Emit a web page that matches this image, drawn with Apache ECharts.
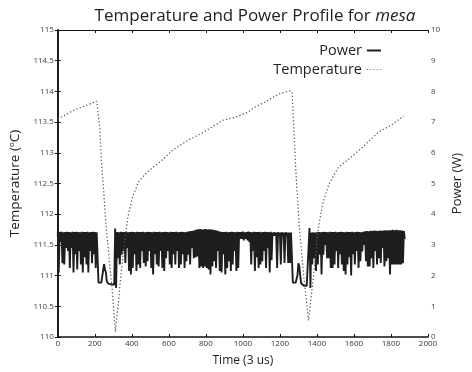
<!DOCTYPE html>
<html>
<head>
<meta charset="utf-8">
<script src="https://cdn.jsdelivr.net/npm/echarts@6/dist/echarts.min.js"></script>
<style>
html,body{margin:0;padding:0;background:#fff;}
#c{width:472px;height:372px;}
</style>
</head>
<body>
<div id="c"></div>
<script>
// ---- data ----
const titleText = 'Temperature and Power Profile for ';
const titleItalic = 'mesa';
const xTicks = [0, 200, 400, 600, 800, 1000, 1200, 1400, 1600, 1800, 2000];

// Temperature (deg C) vs time (3 us units)
const tempTime = [0, 8, 84, 152, 210, 219, 227, 236, 249, 261, 278, 295, 311, 320, 328, 337, 354, 379, 404, 438, 488, 556, 623, 707, 791, 892, 960, 1027, 1061, 1128, 1195, 1254, 1266, 1271, 1288, 1305, 1322, 1338, 1355, 1372, 1389, 1406, 1431, 1465, 1515, 1582, 1650, 1734, 1801, 1869];
const tempValue = [113.55, 113.57, 113.69, 113.77, 113.84, 113.85, 113.40, 112.86, 112.33, 111.79, 111.26, 110.73, 110.08, 110.35, 110.57, 110.89, 111.37, 111.96, 112.28, 112.54, 112.70, 112.86, 113.05, 113.21, 113.34, 113.53, 113.58, 113.66, 113.74, 113.84, 113.96, 114.01, 113.99, 113.66, 112.60, 111.80, 111.21, 110.73, 110.27, 110.73, 111.21, 111.74, 112.17, 112.49, 112.76, 112.92, 113.10, 113.34, 113.45, 113.60];

// Power (W): sampled every 10 time units; top of the band and bottom of the band
const powerStart = 0;
const powerStep = 10;
const powerHigh = [
 3.43,3.42,3.43,3.41,3.42,3.43,3.42,3.41,3.43,3.42, 3.43,3.42,3.41,3.43,3.42,3.42,3.43,3.41,3.42,3.43,
 3.42,3.41,1.77,1.77,1.77,2.37,2.10,1.75,1.72,1.72, 1.70,3.53,3.42,3.41,3.43,3.42,3.42,3.43,3.41,3.42,
 3.43,3.42,3.41,3.43,3.42,3.42,3.43,3.41,3.42,3.43, 3.42,3.41,3.43,3.42,3.42,3.43,3.41,3.42,3.43,3.42,
 3.41,3.43,3.42,3.42,3.43,3.41,3.42,3.43,3.42,3.41, 3.43,3.44,3.45,3.46,3.48,3.50,3.51,3.52,3.50,3.51,
 3.52,3.50,3.51,3.50,3.49,3.48,3.47,3.44,3.43,3.42, 3.42,3.43,3.41,3.42,3.43,3.42,3.41,3.43,3.42,3.42,
 3.43,3.41,3.42,3.43,3.42,3.41,3.43,3.42,3.42,3.43, 3.41,3.42,3.43,3.42,3.41,3.43,3.40,3.41,3.40,3.41,
 3.40,3.41,3.40,3.41,3.40,3.40,3.40,1.77,1.77,1.80, 2.40,2.00,1.70,1.67,1.67,1.67,3.55,3.40,3.41,3.40,
 3.41,3.42,3.41,3.42,3.43,3.42,3.41,3.43,3.42,3.42, 3.43,3.41,3.42,3.43,3.42,3.41,3.43,3.42,3.42,3.43,
 3.41,3.42,3.43,3.42,3.41,3.43,3.44,3.45,3.44,3.46, 3.45,3.47,3.46,3.45,3.47,3.46,3.47,3.48,3.47,3.48,
 3.48,3.49,3.48,3.49,3.48,3.48,3.47,3.45
];
const powerLow = [
 2.10,3.10,2.40,2.36,2.90,2.80,2.25,2.90,2.10,2.70, 2.20,2.80,2.36,2.10,2.60,2.36,2.10,2.80,2.40,2.70,
 2.25,2.60,1.77,1.77,1.80,2.20,1.80,1.73,1.72,1.72, 1.70,1.60,2.57,2.36,2.68,2.80,2.41,2.90,2.15,2.04,
 2.25,2.70,2.15,2.36,2.25,2.80,2.41,2.30,2.47,2.80, 2.25,2.04,2.70,2.36,2.30,2.80,2.25,2.15,2.57,2.80,
 2.36,2.25,2.70,2.36,2.80,2.25,2.36,2.70,2.25,2.47, 2.68,2.36,2.90,2.57,2.60,2.62,2.25,2.30,2.25,2.30,
 2.25,2.20,2.04,2.30,2.47,2.25,2.80,2.15,2.10,2.70, 2.04,2.25,2.47,2.15,2.36,2.80,2.15,2.25,3.20,3.20,
 3.15,3.20,3.15,3.10,2.36,2.80,2.15,2.60,2.25,2.36, 2.47,2.80,2.25,2.90,2.10,2.50,3.30,3.30,2.25,3.30,
 2.36,3.30,2.41,3.30,2.41,2.41,3.35,1.77,1.77,2.00, 2.30,1.75,1.70,1.67,1.67,1.67,1.60,2.36,2.57,2.15,
 2.36,2.68,2.04,2.68,3.00,2.57,2.57,2.25,2.25,2.36, 2.80,2.25,2.70,2.36,2.15,2.04,2.36,2.60,2.00,2.70,
 2.36,2.80,2.25,2.47,2.79,3.00,2.47,2.30,2.30,2.57, 2.25,2.80,2.36,2.57,2.41,2.90,2.30,2.47,2.57,2.04,
 2.36,2.36,2.36,2.36,2.36,2.36,2.40,3.20
];

// ---- build ----
const tempData = tempTime.map((t, i) => [t, tempValue[i]]);
const powerData = [];
for (let i = 0; i < powerHigh.length; i++) {
  const t = powerStart + i * powerStep;
  powerData.push([t, powerHigh[i]]);
  powerData.push([t + powerStep / 2, powerLow[i]]);
}

const FONT = 'Open Sans';
const chart = echarts.init(document.getElementById('c'), null, {renderer: 'canvas'});
const plainNum = v => String(v);
const axisCommon = {
  axisLine: {show: true, lineStyle: {color: '#111', width: 1.5}},
  axisTick: {show: true, inside: true, length: 3, lineStyle: {color: '#111', width: 1}},
  splitLine: {show: false},
  axisLabel: {fontSize: 8, color: '#444', fontFamily: FONT, formatter: plainNum}
};
const dotIcon = 'path://M0,0h1v1h-1z M3,0h1v1h-1z M6,0h1v1h-1z M9,0h1v1h-1z M12,0h1v1h-1z';
chart.setOption({
  animation: false,
  backgroundColor: '#fff',
  title: {
    text: '{n|' + titleText + '}{i|' + titleItalic + '}',
    left: 250, textAlign: 'center', top: 3,
    textStyle: {
      rich: {
        n: {fontSize: 17, color: '#222', fontFamily: FONT, fontWeight: 'normal'},
        i: {fontSize: 17, color: '#222', fontFamily: FONT, fontStyle: 'italic', fontWeight: 'normal'}
      }
    }
  },
  legend: [
    {data: [{name: 'Power', icon: 'rect', itemStyle: {color: '#1c1c1c'}}],
     right: 86, top: 38, align: 'right', itemWidth: 14, itemHeight: 2,
     textStyle: {fontSize: 14.5, color: '#222', fontFamily: FONT}},
    {data: [{name: 'Temperature', icon: dotIcon, itemStyle: {color: '#777'}}],
     right: 86, top: 57, align: 'right', itemWidth: 14, itemHeight: 1.2,
     textStyle: {fontSize: 14.5, color: '#222', fontFamily: FONT}}
  ],
  grid: {left: 50, right: 26, top: 30, bottom: 30},
  xAxis: [
    Object.assign({}, axisCommon, {
      type: 'value', min: xTicks[0], max: xTicks[xTicks.length - 1], interval: 200, position: 'bottom',
      name: 'Time (3 us)', nameLocation: 'middle', nameGap: 18,
      nameTextStyle: {fontSize: 12, color: '#222', fontFamily: FONT},
      axisLabel: {fontSize: 8, color: '#333', fontFamily: FONT, margin: 3, formatter: plainNum}
    }),
    Object.assign({}, axisCommon, {
      type: 'value', min: xTicks[0], max: xTicks[xTicks.length - 1], interval: 200, position: 'top',
      axisLine: {show: true, lineStyle: {color: '#111', width: 1}},
      axisLabel: {show: false}
    })
  ],
  yAxis: [
    Object.assign({}, axisCommon, {
      type: 'value', min: 110, max: 115, interval: 0.5, position: 'left',
      name: '{n|Temperature (}{s|o}{n|C)}', nameLocation: 'middle', nameGap: 28, nameRotate: 90,
      nameTextStyle: {rich: {
        n: {fontSize: 13.5, color: '#222', fontFamily: FONT},
        s: {fontSize: 8, color: '#222', fontFamily: FONT, verticalAlign: 'top', padding: [0, 0, 7, 0]}
      }},
      axisLabel: {fontSize: 8, color: '#444', fontFamily: FONT, margin: 4, formatter: plainNum}
    }),
    Object.assign({}, axisCommon, {
      type: 'value', min: 0, max: 10, interval: 1, position: 'right',
      axisLine: {show: true, lineStyle: {color: '#111', width: 1.5}},
      name: 'Power (W)', nameLocation: 'middle', nameGap: 18, nameRotate: 90,
      nameTextStyle: {fontSize: 13, color: '#222', fontFamily: FONT},
      axisLabel: {fontSize: 8, color: '#444', fontFamily: FONT, margin: 3, formatter: plainNum}
    })
  ],
  series: [
    {
      name: 'Power', type: 'line', xAxisIndex: 0, yAxisIndex: 1, data: powerData,
      symbol: 'none', smooth: false, z: 2,
      lineStyle: {color: '#1e1e1e', width: 1.9}, itemStyle: {color: '#1e1e1e'}
    },
    {
      name: 'Temperature', type: 'line', xAxisIndex: 0, yAxisIndex: 0, data: tempData,
      symbol: 'none', smooth: false, z: 3,
      lineStyle: {color: '#555', width: 1.2, type: [1.3, 2.2]}, itemStyle: {color: '#777'}
    }
  ]
});
</script>
</body>
</html>
